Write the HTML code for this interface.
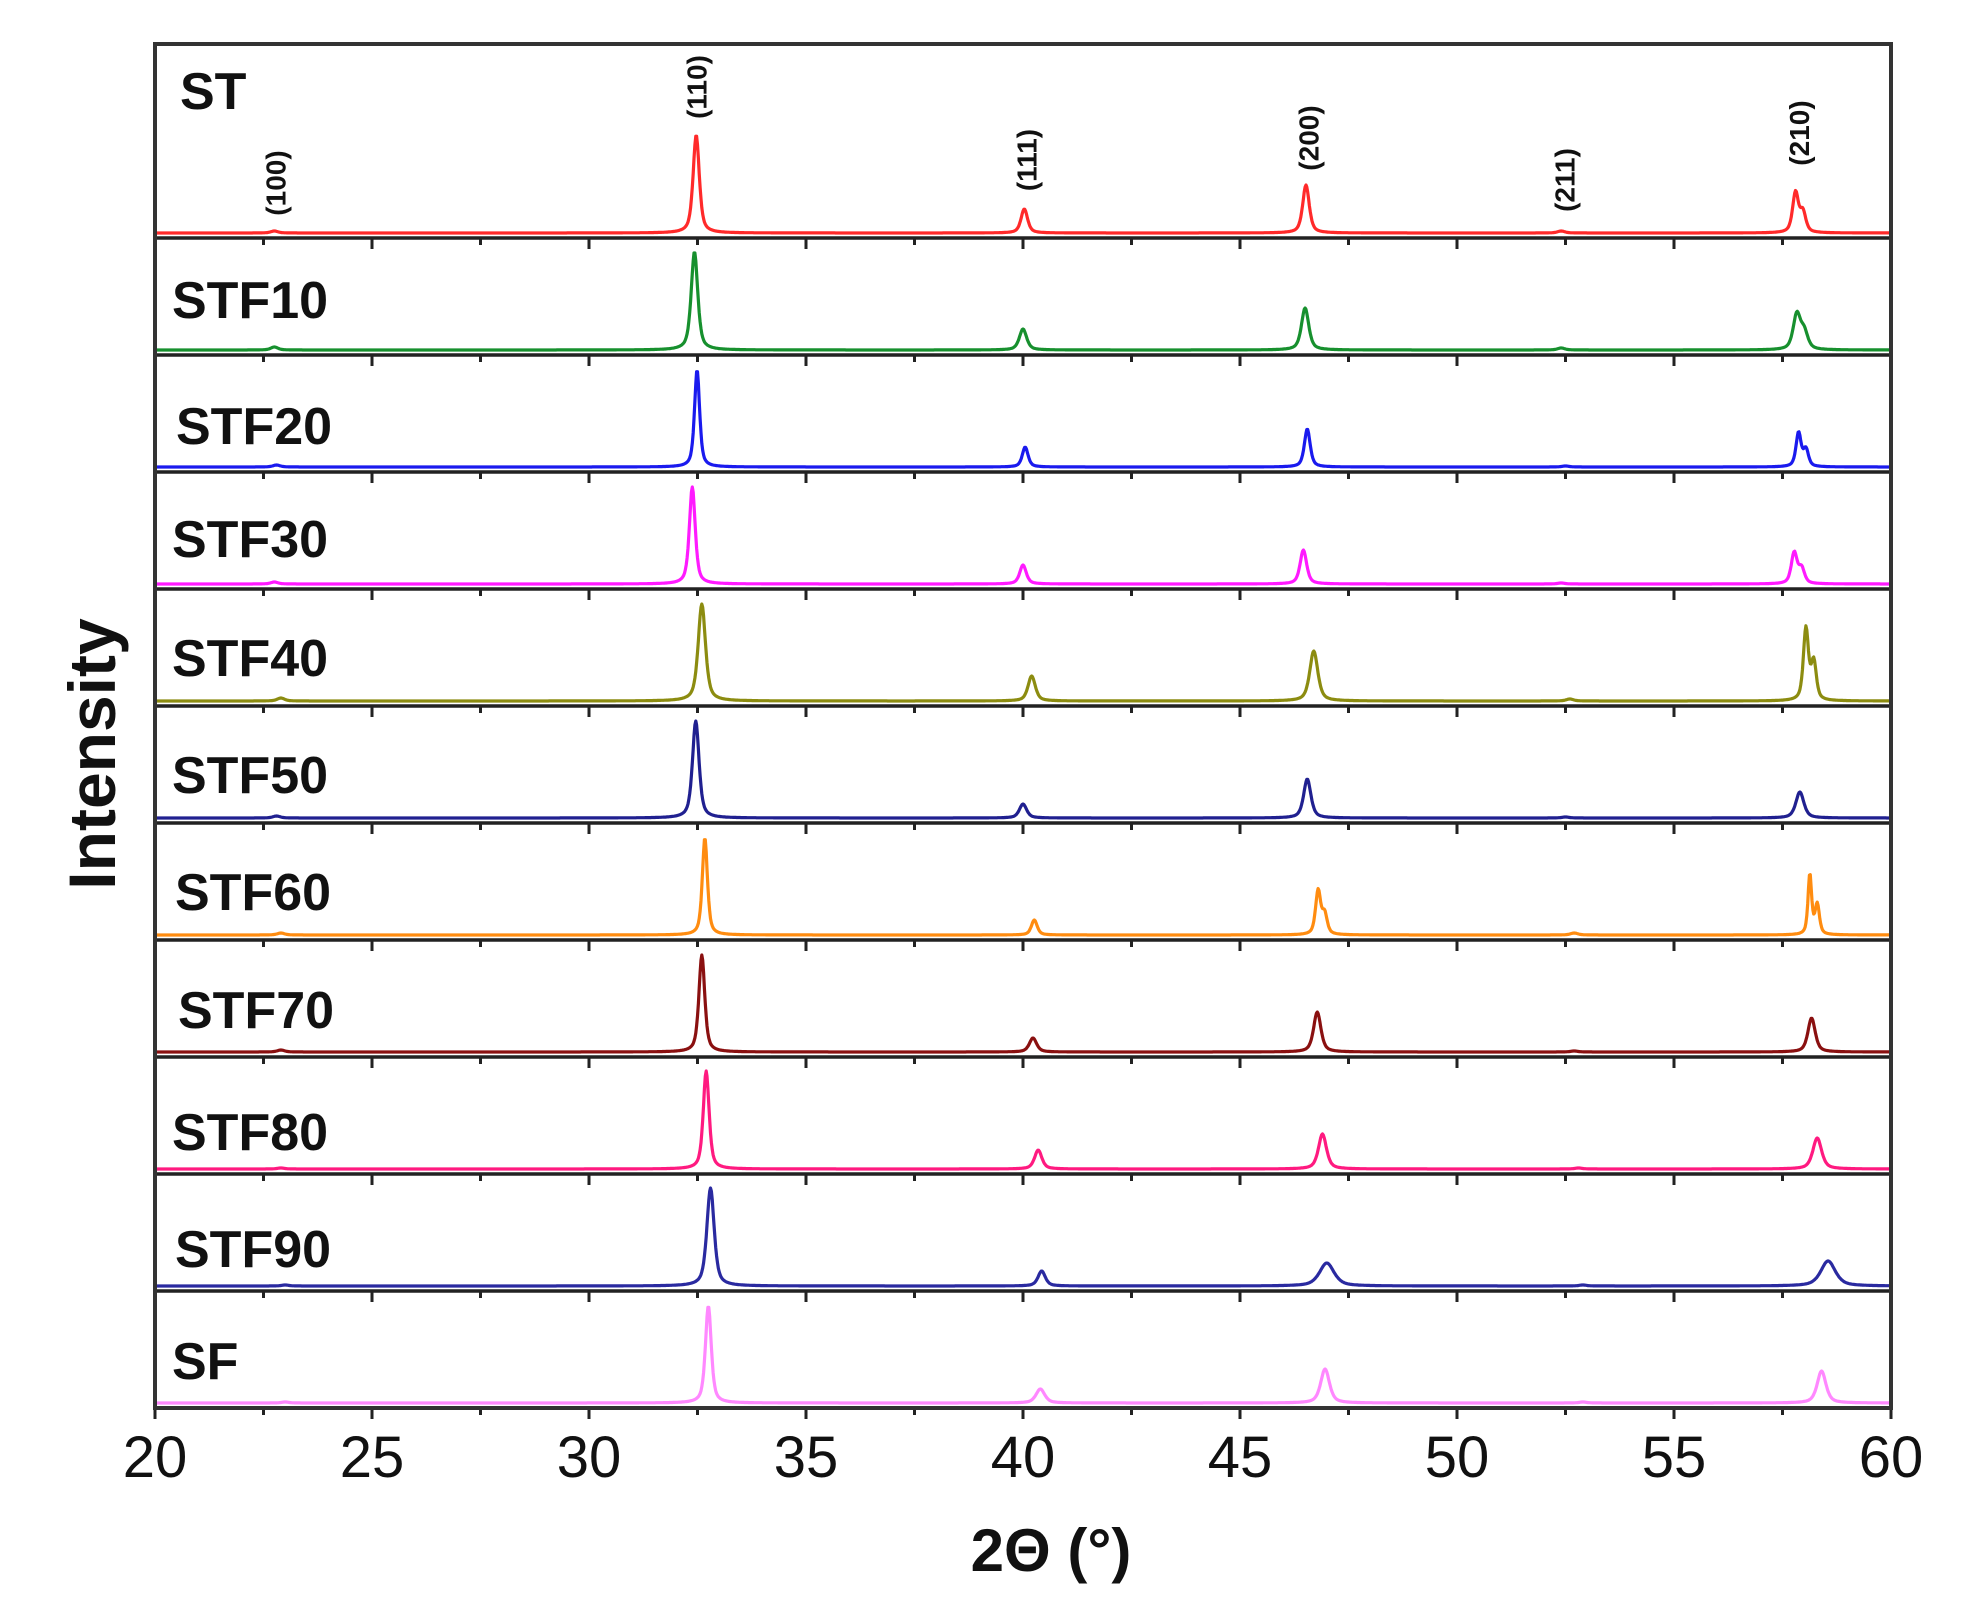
<!DOCTYPE html>
<html><head><meta charset="utf-8"><style>
html,body{margin:0;padding:0;background:#fff;width:1970px;height:1622px;overflow:hidden}
svg{display:block}
</style></head><body>
<svg id="s" width="1970" height="1622" xmlns="http://www.w3.org/2000/svg" font-family="Liberation Sans, sans-serif"></svg>
<script>
const S=document.getElementById('s');
const X0=155,X1=1891,TOP=44,BOT=1408;
const px=d=>X0+(d-20)*(X1-X0)/40;
const divs=[TOP,238];for(let k=1;k<=10;k++)divs.push(238+117*k);
const series=[
 ['ST','#ff2a2a',180,109,[[22.75,2,.1],[32.47,98,.085],[40.03,24,.09],[46.52,48,.09],[52.4,2,.1],[57.8,40,.08],[57.97,20,.08]]],
 ['STF10','#17902e',172,318,[[22.75,3,.1],[32.43,98,.09],[40.0,21,.1],[46.5,42,.1],[52.4,2,.1],[57.83,35,.1],[58.0,17,.1]]],
 ['STF20','#1a1aee',176,444,[[22.8,2,.1],[32.49,97,.07],[40.05,20,.08],[46.55,38,.08],[52.5,1,.1],[57.87,34,.07],[58.04,17,.07]]],
 ['STF30','#ff1aff',172,557,[[22.75,2,.1],[32.38,97,.08],[40.0,19,.09],[46.46,34,.09],[52.4,1,.1],[57.77,31,.08],[57.94,15,.08]]],
 ['STF40','#8c8c10',172,676,[[22.9,3,.1],[32.6,97,.1],[40.2,25,.1],[46.7,50,.11],[52.6,2,.1],[58.04,72,.07],[58.22,38,.07]]],
 ['STF50','#202090',172,793,[[22.8,2,.1],[32.46,97,.09],[40.0,14,.1],[46.55,39,.1],[52.5,1,.1],[57.9,26,.11]]],
 ['STF60','#ff8c10',175,910,[[22.9,2,.1],[32.67,97,.07],[40.26,15,.08],[46.8,44,.07],[46.95,20,.07],[52.7,2,.1],[58.13,60,.05],[58.3,30,.06]]],
 ['STF70','#8a1010',178,1028,[[22.9,2,.1],[32.6,97,.08],[40.23,14,.1],[46.78,40,.1],[52.7,1,.1],[58.17,34,.1]]],
 ['STF80','#ff1a80',172,1150,[[22.9,1,.1],[32.7,98,.08],[40.35,19,.1],[46.9,35,.11],[52.8,1,.1],[58.3,31,.12]]],
 ['STF90','#2a2aa0',175,1267,[[23,1,.1],[32.8,98,.1],[40.43,15,.1],[47.0,23,.2],[52.9,1,.1],[58.55,25,.2]]],
 ['SF','#ff88ff',172,1379,[[23,1,.1],[32.75,97,.08],[40.4,14,.12],[46.96,34,.12],[52.9,1,.1],[58.4,32,.12]]]
];
let h='';
series.forEach((s,i)=>{
 const base=divs[i+1]-5;
 let d='';
 for(let x=20;x<=60.0001;x+=0.02){
  let y=0;
  for(const [c,a,w] of s[4]){const t=(x-c)/w;y+=a*(0.6/(1+t*t)+0.4*Math.exp(-0.693*t*t));}
  d+=(d?'L':'M')+px(x).toFixed(1)+','+(base-y).toFixed(1);
 }
 h+=`<path d="${d}" fill="none" stroke="${s[1]}" stroke-width="3.2" stroke-linejoin="round"/>`;
 h+=`<text x="${s[2]}" y="${s[3]}" font-size="52" font-weight="bold" fill="#111">${s[0]}</text>`;
});
// dividers and ticks
for(let k=1;k<divs.length;k++){
 const y=divs[k];
 h+=`<line x1="${X0}" y1="${y}" x2="${X1}" y2="${y}" stroke="#222" stroke-width="3.5"/>`;
 for(let t=20;t<=60;t+=2.5){const maj=(t%5===0);h+=`<line x1="${px(t)}" y1="${y}" x2="${px(t)}" y2="${y+(maj?11:7)}" stroke="#222" stroke-width="3"/>`;}
}
h+=`<rect x="${X0}" y="${TOP}" width="${X1-X0}" height="${BOT-TOP}" fill="none" stroke="#333" stroke-width="4"/>`;
for(let t=20;t<=60;t+=5)h+=`<text x="${px(t)}" y="1477" font-size="58" text-anchor="middle" fill="#111">${t}</text>`;
h+=`<text x="1051" y="1571" font-size="60" font-weight="bold" text-anchor="middle" fill="#111">2Θ (°)</text>`;
h+=`<text transform="translate(115,754) rotate(-90)" font-size="66" font-weight="bold" text-anchor="middle" fill="#111">Intensity</text>`;
[['(100)',22.8,183],['(110)',32.5,87],['(111)',40.1,160],['(200)',46.6,138],['(211)',52.5,180],['(210)',57.9,133]].forEach(l=>{
 h+=`<text transform="translate(${px(l[1])+9},${l[2]}) rotate(-90)" font-size="28" font-weight="bold" text-anchor="middle" fill="#111">${l[0]}</text>`;
});
S.innerHTML=h;
</script>
</body></html>
